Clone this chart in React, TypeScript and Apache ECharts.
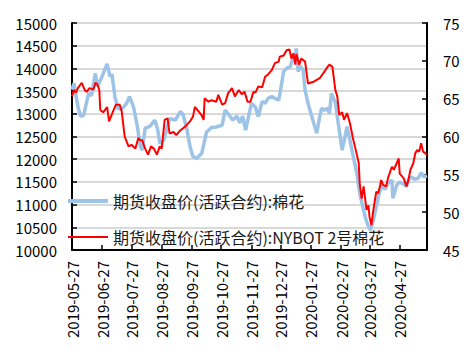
import React, { useEffect, useRef } from "react";
import * as echarts from "echarts";

const START_DATE = "2019-05-27";
const END_DATE = "2020-05-25";

const leftAxis = { min: 10000, max: 15000, interval: 500 };
const rightAxis = { min: 45, max: 75, interval: 5 };

const nameZZ = "期货收盘价(活跃合约):棉花";
const nameNY = "期货收盘价(活跃合约):NYBOT 2号棉花";

const zzCotton: [string, number][] = [
  ["2019-05-27", 13530], ["2019-05-29", 13670], ["2019-06-02", 13160], ["2019-06-05", 12940],
  ["2019-06-08", 12970], ["2019-06-13", 13450], ["2019-06-16", 13400], ["2019-06-20", 13890],
  ["2019-06-22", 13600], ["2019-06-26", 13780], ["2019-07-02", 14100], ["2019-07-05", 13820],
  ["2019-07-07", 13870], ["2019-07-10", 13380], ["2019-07-13", 13120], ["2019-07-17", 13100],
  ["2019-07-22", 13230], ["2019-07-25", 13380], ["2019-07-29", 13160], ["2019-08-02", 12720],
  ["2019-08-05", 12280], ["2019-08-07", 12200], ["2019-08-10", 12680], ["2019-08-15", 12730],
  ["2019-08-20", 12860], ["2019-08-23", 12640], ["2019-08-25", 12350], ["2019-08-29", 12420],
  ["2019-09-01", 12640], ["2019-09-04", 12900], ["2019-09-10", 12860], ["2019-09-15", 13050],
  ["2019-09-18", 12980], ["2019-09-22", 12640], ["2019-09-25", 12280], ["2019-09-28", 12060],
  ["2019-10-02", 12020], ["2019-10-07", 12130], ["2019-10-12", 12600], ["2019-10-17", 12700],
  ["2019-10-22", 12710], ["2019-10-28", 12750], ["2019-10-31", 13080], ["2019-11-03", 13000],
  ["2019-11-08", 12860], ["2019-11-12", 12950], ["2019-11-15", 12800], ["2019-11-18", 12950],
  ["2019-11-21", 12640], ["2019-11-27", 13230], ["2019-12-01", 13150], ["2019-12-04", 12940],
  ["2019-12-08", 13270], ["2019-12-11", 13230], ["2019-12-14", 13340], ["2019-12-18", 13380],
  ["2019-12-21", 13340], ["2019-12-25", 13300], ["2019-12-28", 13670], ["2019-12-30", 13930],
  ["2020-01-02", 14000], ["2020-01-06", 14040], ["2020-01-09", 14260], ["2020-01-11", 14200],
  ["2020-01-12", 14440], ["2020-01-14", 13930], ["2020-01-16", 14050], ["2020-01-19", 13970],
  ["2020-01-21", 13520], ["2020-01-24", 13230], ["2020-01-29", 12860], ["2020-02-02", 12570],
  ["2020-02-05", 12940], ["2020-02-07", 13120], ["2020-02-10", 13080], ["2020-02-13", 13120],
  ["2020-02-15", 13010], ["2020-02-17", 13450], ["2020-02-21", 13250], ["2020-02-24", 12790],
  ["2020-02-28", 12200], ["2020-03-02", 12500], ["2020-03-04", 12720], ["2020-03-07", 12420],
  ["2020-03-10", 12100], ["2020-03-14", 11700], ["2020-03-17", 11250], ["2020-03-21", 10880],
  ["2020-03-23", 10700], ["2020-03-26", 10510], ["2020-03-28", 10440], ["2020-03-31", 10660],
  ["2020-04-03", 10950], ["2020-04-06", 11250], ["2020-04-09", 11430], ["2020-04-12", 11330],
  ["2020-04-15", 11470], ["2020-04-19", 11540], ["2020-04-20", 11140], ["2020-04-24", 11430],
  ["2020-04-27", 11500], ["2020-05-01", 11450], ["2020-05-04", 11400], ["2020-05-06", 11540],
  ["2020-05-09", 11610], ["2020-05-12", 11560], ["2020-05-16", 11580], ["2020-05-19", 11700],
  ["2020-05-22", 11610], ["2020-05-25", 11630],
];

const nybotCotton: [string, number][] = [
  ["2019-05-27", 65.3], ["2019-05-29", 66.15], ["2019-05-31", 65.8], ["2019-06-02", 66.4],
  ["2019-06-06", 67.1], ["2019-06-09", 66.15], ["2019-06-11", 65.9], ["2019-06-14", 66.4],
  ["2019-06-18", 66.2], ["2019-06-20", 67.1], ["2019-06-22", 66.9], ["2019-06-24", 66.15],
  ["2019-06-25", 63.5], ["2019-06-28", 63.2], ["2019-07-02", 63.9], ["2019-07-04", 62.0],
  ["2019-07-08", 63.3], ["2019-07-11", 64.2], ["2019-07-15", 64.2], ["2019-07-17", 63.3],
  ["2019-07-20", 60.0], ["2019-07-24", 58.7], ["2019-07-27", 58.9], ["2019-07-31", 58.4],
  ["2019-08-03", 59.8], ["2019-08-05", 59.5], ["2019-08-07", 59.5], ["2019-08-10", 58.4],
  ["2019-08-13", 57.6], ["2019-08-16", 58.7], ["2019-08-19", 58.4], ["2019-08-22", 57.6],
  ["2019-08-25", 58.7], ["2019-08-27", 58.4], ["2019-08-30", 62.2], ["2019-09-02", 62.4],
  ["2019-09-04", 60.4], ["2019-09-08", 60.6], ["2019-09-11", 60.2], ["2019-09-15", 60.8],
  ["2019-09-20", 61.3], ["2019-09-25", 62.0], ["2019-09-28", 62.6], ["2019-09-30", 63.9],
  ["2019-10-04", 63.3], ["2019-10-07", 62.8], ["2019-10-09", 62.2], ["2019-10-10", 65.05],
  ["2019-10-14", 64.6], ["2019-10-17", 64.8], ["2019-10-22", 64.6], ["2019-10-24", 65.5],
  ["2019-10-28", 64.2], ["2019-10-31", 64.4], ["2019-11-03", 65.7], ["2019-11-07", 66.4],
  ["2019-11-10", 65.3], ["2019-11-14", 66.15], ["2019-11-17", 65.6], ["2019-11-20", 65.9],
  ["2019-11-23", 64.6], ["2019-11-26", 64.6], ["2019-11-29", 65.9], ["2019-12-01", 65.8],
  ["2019-12-04", 66.6], ["2019-12-08", 66.5], ["2019-12-11", 67.9], ["2019-12-14", 68.2],
  ["2019-12-18", 68.8], ["2019-12-21", 69.7], ["2019-12-25", 69.9], ["2019-12-26", 70.55],
  ["2019-12-30", 70.7], ["2020-01-02", 71.4], ["2020-01-05", 71.5], ["2020-01-07", 70.3],
  ["2020-01-09", 71.0], ["2020-01-11", 69.5], ["2020-01-12", 70.9], ["2020-01-15", 69.5],
  ["2020-01-17", 70.3], ["2020-01-21", 69.9], ["2020-01-24", 67.0], ["2020-01-29", 67.2],
  ["2020-02-05", 67.7], ["2020-02-10", 68.6], ["2020-02-13", 69.2], ["2020-02-15", 69.5],
  ["2020-02-18", 69.2], ["2020-02-21", 66.15], ["2020-02-23", 65.3], ["2020-02-25", 62.85],
  ["2020-02-28", 63.2], ["2020-03-01", 62.2], ["2020-03-04", 63.1], ["2020-03-07", 61.75],
  ["2020-03-10", 59.8], ["2020-03-13", 58.2], ["2020-03-16", 56.5], ["2020-03-17", 53.8],
  ["2020-03-19", 51.8], ["2020-03-21", 53.4], ["2020-03-24", 50.3], ["2020-03-26", 50.9],
  ["2020-03-27", 49.4], ["2020-03-29", 48.3], ["2020-03-31", 50.3], ["2020-04-03", 52.7],
  ["2020-04-05", 52.5], ["2020-04-07", 53.6], ["2020-04-08", 54.25], ["2020-04-10", 53.6],
  ["2020-04-13", 53.4], ["2020-04-15", 54.5], ["2020-04-19", 56.0], ["2020-04-21", 55.6],
  ["2020-04-24", 56.5], ["2020-04-26", 57.1], ["2020-04-27", 55.1], ["2020-05-01", 54.5],
  ["2020-05-04", 53.4], ["2020-05-06", 54.3], ["2020-05-08", 55.6], ["2020-05-11", 56.5],
  ["2020-05-13", 57.8], ["2020-05-15", 58.2], ["2020-05-17", 58.0], ["2020-05-19", 59.1],
  ["2020-05-21", 58.0], ["2020-05-23", 57.8], ["2020-05-25", 57.6],
];

function buildCalendar(start: string, end: string): string[] {
  const out: string[] = [];
  const d = new Date(start + "T00:00:00Z");
  const e = new Date(end + "T00:00:00Z");
  while (d.getTime() <= e.getTime()) {
    out.push(d.toISOString().slice(0, 10));
    d.setUTCDate(d.getUTCDate() + 1);
  }
  return out;
}

const FONT = "'Noto Sans CJK SC', 'Noto Sans', sans-serif";

export default function App() {
  const ref = useRef<HTMLDivElement>(null);
  useEffect(() => {
    if (!ref.current) return;
    const chart = echarts.init(ref.current, null, { renderer: "svg" });
    const days = buildCalendar(START_DATE, END_DATE);
    const idx: Record<string, number> = {};
    days.forEach((d, i) => (idx[d] = i));
    const isMonthTick = (_i: number, v: string) => v.slice(8, 10) === "27";
    const plain = (v: number) => String(v);
    chart.setOption({
      animation: false,
      backgroundColor: "#ffffff",
      textStyle: { fontFamily: FONT },
      grid: { left: 72, right: 46, top: 23, bottom: 104, containLabel: false },
      legend: {
        orient: "vertical",
        left: 66,
        top: 193,
        padding: 0,
        itemWidth: 40,
        itemHeight: 16,
        itemGap: 20,
        textStyle: { fontSize: 16, color: "#1a1a1a", fontFamily: FONT, lineHeight: 16 },
        data: [
          { name: nameZZ, lineStyle: { width: 4 }, itemStyle: { opacity: 0 } },
          { name: nameNY, lineStyle: { width: 2 }, itemStyle: { opacity: 0 } },
        ],
      },
      xAxis: {
        type: "category",
        data: days,
        boundaryGap: false,
        axisLine: { lineStyle: { color: "#000", width: 2 } },
        axisTick: { inside: true, length: 5, interval: isMonthTick, lineStyle: { color: "#000", width: 1.5 } },
        axisLabel: {
          interval: isMonthTick,
          rotate: 90,
          margin: 11,
          fontSize: 15,
          color: "#000",
          fontFamily: FONT,
        },
        splitLine: { show: false },
      },
      yAxis: [
        {
          type: "value",
          min: leftAxis.min,
          max: leftAxis.max,
          interval: leftAxis.interval,
          axisLine: { show: true, lineStyle: { color: "#000", width: 2 } },
          axisTick: { show: true, inside: true, length: 5, lineStyle: { color: "#000", width: 1.5 } },
          axisLabel: { fontSize: 15, color: "#000", margin: 15, fontFamily: FONT, formatter: plain },
          splitLine: { show: true, lineStyle: { color: "#d9d9d9", width: 2 } },
        },
        {
          type: "value",
          min: rightAxis.min,
          max: rightAxis.max,
          interval: rightAxis.interval,
          position: "right",
          axisLine: { show: true, lineStyle: { color: "#000", width: 2 } },
          axisTick: { show: true, inside: true, length: 5, lineStyle: { color: "#000", width: 1.5 } },
          axisLabel: { fontSize: 15, color: "#000", margin: 16, fontFamily: FONT, formatter: plain },
          splitLine: { show: false },
        },
      ],
      series: [
        {
          name: nameZZ,
          type: "line",
          yAxisIndex: 0,
          symbol: "none",
          lineStyle: { color: "#9dc3e6", width: 3.5 },
          itemStyle: { color: "#9dc3e6" },
          data: zzCotton.map(([d, v]) => [idx[d], v]),
        },
        {
          name: nameNY,
          type: "line",
          yAxisIndex: 1,
          symbol: "none",
          lineStyle: { color: "#ff0000", width: 2 },
          itemStyle: { color: "#ff0000" },
          data: nybotCotton.map(([d, v]) => [idx[d], v]),
        },
      ],
    });
    return () => chart.dispose();
  }, []);
  return (
    <div
      ref={ref}
      style={{ position: "fixed", left: 0, top: 0, width: 473, height: 354 }}
    />
  );
}
